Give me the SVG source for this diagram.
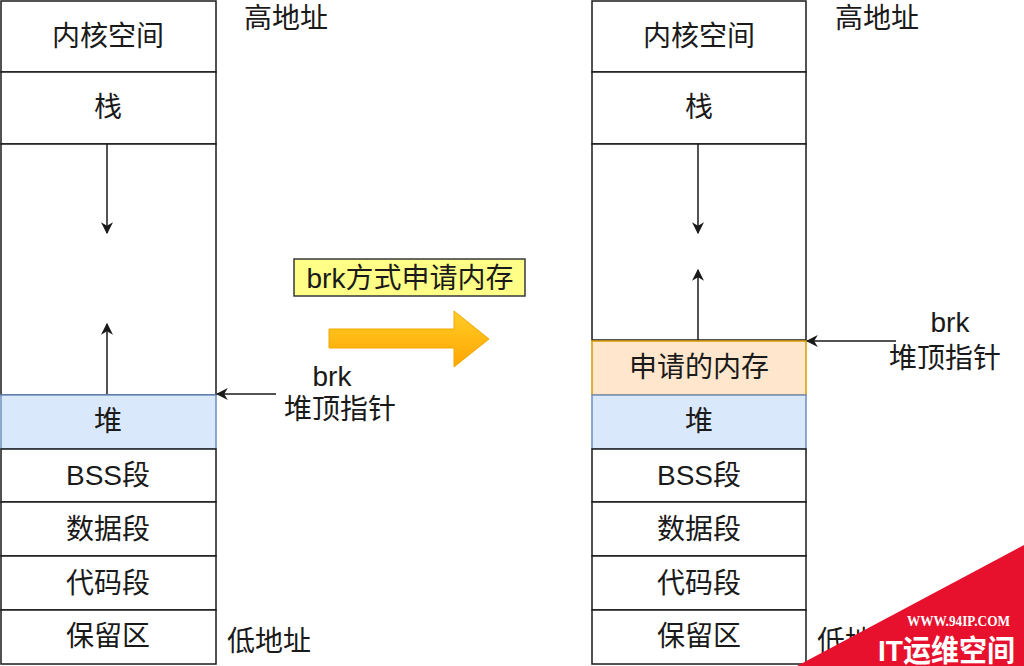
<svg xmlns="http://www.w3.org/2000/svg" width="1024" height="666" viewBox="0 0 1024 666">
<style>
.cell{fill:#ffffff;stroke:#1a1a1a;stroke-width:1.5}
.heap{fill:#dae8fc;stroke:#6c8ebf;stroke-width:1.5}
.req{fill:#ffe6cc;stroke:#d79b00;stroke-width:1.5}
.t{font-family:"Liberation Sans","Noto Sans CJK SC",sans-serif;font-size:28px;fill:#1a1a1a;text-anchor:middle}
.l{font-family:"Liberation Sans","Noto Sans CJK SC",sans-serif;font-size:28px;fill:#1a1a1a}
.conn{stroke:#1a1a1a;stroke-width:1.5;fill:none;marker-end:url(#ah)}
</style>
<defs>
<marker id="ah" viewBox="0 0 10 10" refX="9" refY="5" markerWidth="12" markerHeight="12" markerUnits="userSpaceOnUse" orient="auto">
<path d="M0,0 L10,5 L0,10 L3,5 Z" fill="#1a1a1a"/>
</marker>
<linearGradient id="og" x1="0" y1="0" x2="0" y2="1">
<stop offset="0" stop-color="#ffcd28"/>
<stop offset="1" stop-color="#ffa500"/>
</linearGradient>
</defs>
<rect width="1024" height="666" fill="#ffffff"/>

<g id="left-column">
<rect class="cell" x="1" y="1" width="215" height="71"/>
<text class="t" x="108" y="46">内核空间</text>
<rect class="cell" x="1" y="72" width="215" height="72"/>
<text class="t" x="108" y="117">栈</text>
<rect class="cell" x="1" y="144" width="215" height="251"/>
<rect class="heap" x="1" y="395" width="215" height="54"/>
<text class="t" x="108" y="431">堆</text>
<rect class="cell" x="1" y="449" width="215" height="53"/>
<text class="t" x="108" y="485">BSS段</text>
<rect class="cell" x="1" y="502" width="215" height="54"/>
<text class="t" x="108" y="539">数据段</text>
<rect class="cell" x="1" y="556" width="215" height="54"/>
<text class="t" x="108" y="593">代码段</text>
<rect class="cell" x="1" y="610" width="215" height="54"/>
<text class="t" x="108" y="646">保留区</text>
</g>

<g id="right-column">
<rect class="cell" x="592" y="1" width="214" height="71"/>
<text class="t" x="699" y="46">内核空间</text>
<rect class="cell" x="592" y="72" width="214" height="72"/>
<text class="t" x="699" y="117">栈</text>
<rect class="cell" x="592" y="144" width="214" height="196"/>
<rect class="req" x="592" y="341" width="214" height="54"/>
<text class="t" x="699" y="377">申请的内存</text>
<rect class="heap" x="592" y="395" width="214" height="54"/>
<text class="t" x="699" y="431">堆</text>
<rect class="cell" x="592" y="449" width="214" height="53"/>
<text class="t" x="699" y="485">BSS段</text>
<rect class="cell" x="592" y="502" width="214" height="54"/>
<text class="t" x="699" y="539">数据段</text>
<rect class="cell" x="592" y="556" width="214" height="54"/>
<text class="t" x="699" y="593">代码段</text>
<rect class="cell" x="592" y="610" width="214" height="54"/>
<text class="t" x="699" y="646">保留区</text>
</g>

<g id="labels">
<text class="l" x="244" y="28">高地址</text>
<text class="l" x="227" y="651">低地址</text>
<text class="l" x="835" y="28">高地址</text>
<text class="l" x="817" y="651">低地址</text>
<text class="t" x="332" y="386">brk</text>
<text class="t" x="340" y="419">堆顶指针</text>
<text class="t" x="950" y="332">brk</text>
<text class="t" x="945" y="368">堆顶指针</text>
</g>

<g id="connectors">
<line class="conn" x1="107" y1="144" x2="107" y2="233"/>
<line class="conn" x1="107" y1="394" x2="107" y2="324"/>
<line class="conn" x1="276" y1="394" x2="217" y2="394"/>
<line class="conn" x1="698" y1="144" x2="698" y2="233"/>
<line class="conn" x1="698" y1="340" x2="698" y2="270"/>
<line class="conn" x1="896" y1="341" x2="807" y2="341"/>
</g>

<g id="transition-label">
<rect x="294" y="259" width="231" height="37" fill="#ffff88" stroke="#36393d" stroke-width="1.5"/>
<text class="t" x="410" y="288">brk方式申请内存</text>
</g>

<g id="transition-arrow">
<path d="M329,329 L454,329 L454,311 L489,339 L454,367 L454,348 L329,348 Z" fill="url(#og)" stroke="#f0a800" stroke-width="1"/>
</g>

<g id="watermark">
<path d="M797,666 L1024,545 L1024,666 Z" fill="#e8112d"/>
<text x="907" y="626" font-family="Liberation Serif,serif" font-weight="bold" font-size="15" fill="#ffffff" textLength="103" lengthAdjust="spacingAndGlyphs">WWW.94IP.COM</text>
<text x="878" y="661" font-family="Liberation Sans,'Noto Sans CJK SC',sans-serif" font-weight="bold" font-size="30" fill="#ffffff" textLength="137" lengthAdjust="spacingAndGlyphs">IT运维空间</text>
</g>
</svg>
